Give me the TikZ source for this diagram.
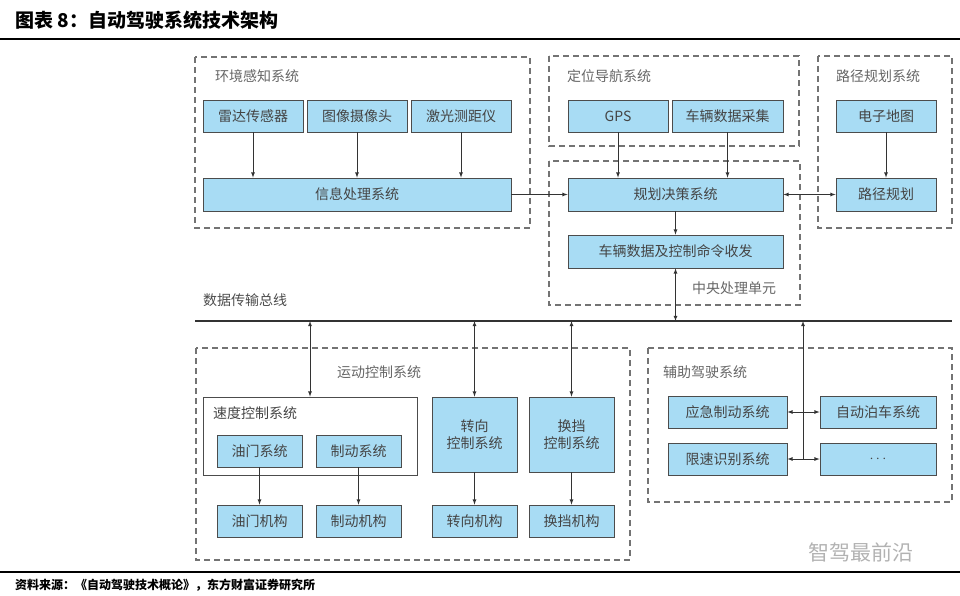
\documentclass[tikz,border=0pt]{standalone}
\usepackage{fontspec}
\setmainfont{Noto Sans CJK SC}
\usepackage{xcolor}
\usepackage{tikz}
\definecolor{boxblue}{HTML}{A8DCF4}
\definecolor{txtgray}{HTML}{444444}
\tikzset{
  blk/.style={draw=black!70, fill=boxblue, thick, inner sep=0pt, font=\fontsize{14}{17}\selectfont, text=txtgray, align=center},
  grp/.style={draw=black!55, line width=1.1pt, dash pattern=on 6pt off 4pt},
  lbl/.style={anchor=west, inner sep=0pt, font=\fontsize{14}{16}\selectfont, text=black!60},
  arr/.style={->, >=latex, black!80, thick},
  barr/.style={<->, >=latex, black!80, thick}
}
\begin{document}
\begin{tikzpicture}[x=1pt, y=-1pt]
	\useasboundingbox (0,0) rectangle (960,596);
	% title
	\node[anchor=west, inner sep=0pt, font=\fontsize{19}{21}\selectfont\bfseries] (title) at (15,20) {图表 8：自动驾驶系统技术架构};
	\draw[line width=1.2pt] (0,39) -- (960,39);
	\draw[line width=1.2pt] (0,572) -- (960,572);
	\node[anchor=west, inner sep=0pt, font=\fontsize{12}{14}\selectfont\bfseries] (src) at (15,585) {资料来源：《自动驾驶技术概论》，东方财富证券研究所};
	\node[anchor=west, inner sep=0pt, font=\fontsize{21}{23}\selectfont, text=black!30] (wm) at (808,552) {智驾最前沿};
	% groups
	\draw[grp] (195,57) rectangle (530,228);
	\node[lbl] (envlbl) at (215,76) {环境感知系统};
	\draw[grp] (549,56) rectangle (799,146);
	\node[lbl] (navlbl) at (567,76) {定位导航系统};
	\draw[grp] (549,161) rectangle (800,305);
	\node[lbl] (cpulbl) at (692,288) {中央处理单元};
	\draw[grp] (818,56) rectangle (952,228);
	\node[lbl] (routelbl) at (836,76) {路径规划系统};
	\draw[grp] (196,348) rectangle (630,560);
	\node[lbl] (motlbl) at (337,372) {运动控制系统};
	\draw[grp] (648,348) rectangle (952,502);
	\node[lbl] (adaslbl) at (663,372) {辅助驾驶系统};
	% perception
	\node[blk, minimum width=100pt, minimum height=32pt] (radar) at (253,116) {雷达传感器};
	\node[blk, minimum width=100pt, minimum height=32pt] (camera) at (357,116) {图像摄像头};
	\node[blk, minimum width=100pt, minimum height=32pt] (lidar) at (461,116) {激光测距仪};
	\node[blk, minimum width=308pt, minimum height=33pt] (info) at (357,194.5) {信息处理系统};
	% navigation and planning
	\node[blk, minimum width=100pt, minimum height=32pt] (gps) at (618,116) {GPS};
	\node[blk, minimum width=111pt, minimum height=32pt] (vdata) at (727.5,116) {车辆数据采集};
	\node[blk, minimum width=215pt, minimum height=33pt] (plan) at (675.5,194.5) {规划决策系统};
	\node[blk, minimum width=215pt, minimum height=33pt] (cmd) at (675.5,251.5) {车辆数据及控制命令收发};
	\node[blk, minimum width=100pt, minimum height=32pt] (map) at (886,116) {电子地图};
	\node[blk, minimum width=100pt, minimum height=33pt] (route) at (886,194.5) {路径规划};
	% bus
	\node[lbl, text=black!70] (buslbl) at (203,300) {数据传输总线};
	\coordinate (busL) at (195,321);
	\coordinate (busR) at (952,321);
	\draw[line width=1.6pt, black!80] (busL) -- (busR);
	% motion control
	\node[draw=black!70, thick, minimum width=214pt, minimum height=78pt] (speed) at (310,436) {};
	\node[lbl, text=txtgray] (speedlbl) at (213,413) {速度控制系统};
	\node[blk, minimum width=85pt, minimum height=32pt] (oil) at (259.5,451) {油门系统};
	\node[blk, minimum width=85pt, minimum height=32pt] (brake) at (358.5,451) {制动系统};
	\node[blk, minimum width=85pt, minimum height=75pt] (steer) at (474.5,434.5) {转向\\控制系统};
	\node[blk, minimum width=85pt, minimum height=75pt] (shift) at (571.5,434.5) {换挡\\控制系统};
	\node[blk, minimum width=85pt, minimum height=32pt] (oilm) at (259.5,521) {油门机构};
	\node[blk, minimum width=85pt, minimum height=32pt] (brakem) at (358.5,521) {制动机构};
	\node[blk, minimum width=85pt, minimum height=32pt] (steerm) at (474.5,521) {转向机构};
	\node[blk, minimum width=85pt, minimum height=32pt] (shiftm) at (571.5,521) {换挡机构};
	% driver assistance
	\node[blk, minimum width=119pt, minimum height=32pt] (emerg) at (727.5,412) {应急制动系统};
	\node[blk, minimum width=119pt, minimum height=32pt] (limit) at (727.5,459) {限速识别系统};
	\node[blk, minimum width=116pt, minimum height=32pt] (park) at (878,412) {自动泊车系统};
	\node[blk, minimum width=116pt, minimum height=32pt] (dots) at (878,459) {$\cdots$};
	\coordinate (junc) at (803,459);
	% connectors
	\foreach \s in {radar,camera,lidar}
		\draw[arr] (\s) -- (\s |- info.north);
	\draw[arr] (info) -- (plan);
	\draw[arr] (gps) -- (gps |- plan.north);
	\draw[arr] (vdata) -- (vdata |- plan.north);
	\draw[barr] (plan) -- (route);
	\draw[arr] (map) -- (route);
	\draw[arr] (plan) -- (cmd);
	\draw[barr] (cmd) -- (cmd |- busL);
	\draw[barr] (busL -| speed.north) -- (speed.north);
	\draw[barr] (busL -| steer.north) -- (steer.north);
	\draw[barr] (busL -| shift.north) -- (shift.north);
	\foreach \a/\b in {oil/oilm,brake/brakem,steer/steerm,shift/shiftm}
		\draw[arr] (\a) -- (\b);
	\draw[arr] (junc) -- (junc |- busL);
	\draw[barr] (emerg) -- (park);
	\draw[barr] (limit) -- (dots);
\end{tikzpicture}
\end{document}
